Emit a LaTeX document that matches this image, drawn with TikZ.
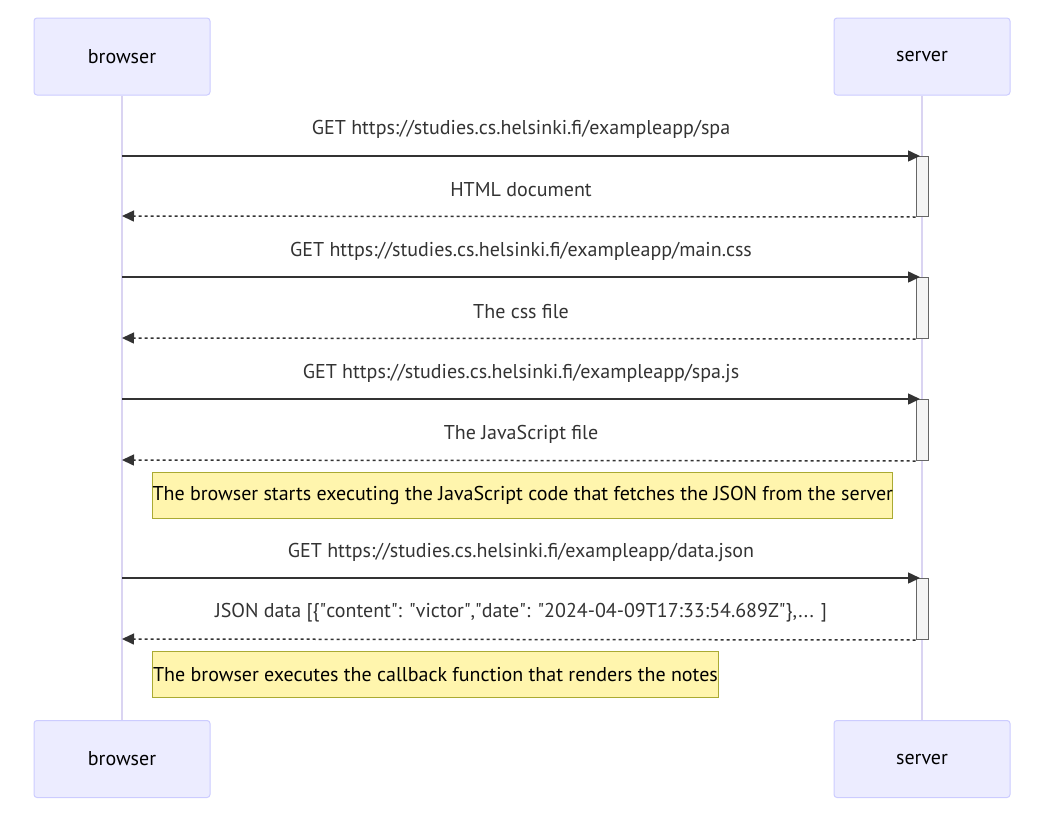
\documentclass[tikz,border=0pt]{standalone}
\usepackage{fontspec}
\setmainfont{PT Sans}
\usetikzlibrary{arrows.meta}
\definecolor{actfill}{HTML}{ECECFF}
\definecolor{actdraw}{HTML}{CCCCFF}
\definecolor{lifec}{HTML}{DAD4F2}
\definecolor{msgc}{HTML}{333333}
\definecolor{notefill}{HTML}{FFF5AD}
\definecolor{notedraw}{HTML}{AAAA33}
\definecolor{actvfill}{HTML}{F4F4F4}
\definecolor{actvdraw}{HTML}{666666}
\newcommand{\qq}{\textquotedbl}
\tikzset{
  actor/.style={draw=actdraw, fill=actfill, line width=1pt, rounded corners=3pt,
    minimum width=176pt, minimum height=77pt, inner sep=0pt, font=\fontsize{20}{24}\selectfont},
  lifeline/.style={draw=lifec, line width=2pt},
  activ/.style={draw=actvdraw, fill=actvfill, line width=1pt, minimum width=12pt, inner sep=0pt},
  msg/.style={draw=msgc, line width=1.5pt, -{Triangle[length=12pt,width=11pt]}},
  reply/.style={msg, dash pattern=on 3pt off 3pt},
  mlabel/.style={text=msgc, font=\fontsize{20}{24}\selectfont, inner sep=0pt},
  note/.style={draw=notedraw, fill=notefill, line width=1pt, minimum height=46pt, inner sep=0pt,
    anchor=north west, font=\fontsize{20}{24}\selectfont},
}
\begin{document}
\begin{tikzpicture}[x=1pt,y=-1pt]
\useasboundingbox (0,0) rectangle (1045,814);
% actors
\node[actor] (bt) at (122,56.5) {browser};
\node[actor] (st) at (922,56.5) {server};
\node[actor] (bb) at (122,759) {browser};
\node[actor] (sb) at (922,759) {server};
% lifelines
\draw[lifeline] (bt.south) -- (bb.north);
\draw[lifeline] (st.south) -- (sb.north);
% activations
\foreach \n/\a/\b in {1/156/216, 2/277/338, 3/399/460, 4/578/639}{
  \node[activ, minimum height=\b-\a, anchor=north] (act\n) at (922,\a) {};
  \coordinate (bs\n) at (122,\a);
  \coordinate (br\n) at (122,\b);
  \coordinate (se\n) at (920,\a);
}
% messages
\draw[msg] (bs1) -- (se1);
\node[mlabel] at (521,129) {GET https://studies.cs.helsinki.fi/exampleapp/spa};
\draw[reply] (act1.south west) -- (br1);
\node[mlabel] at (521,190) {HTML document};
\draw[msg] (bs2) -- (se2);
\node[mlabel] at (521,251) {GET https://studies.cs.helsinki.fi/exampleapp/main.css};
\draw[reply] (act2.south west) -- (br2);
\node[mlabel] at (521,312) {The css file};
\draw[msg] (bs3) -- (se3);
\node[mlabel] at (521,373) {GET https://studies.cs.helsinki.fi/exampleapp/spa.js};
\draw[reply] (act3.south west) -- (br3);
\node[mlabel] at (521,434) {The JavaScript file};
\node[note, minimum width=740pt] (n1) at (152,472) {The browser starts executing the JavaScript code that fetches the JSON from the server};
\draw[msg] (bs4) -- (se4);
\node[mlabel] at (521,552) {GET https://studies.cs.helsinki.fi/exampleapp/data.json};
\draw[reply] (act4.south west) -- (br4);
\node[mlabel] at (521,613) {JSON data [\{\qq content\qq: \qq victor\qq,\qq date\qq: \qq 2024-04-09T17:33:54.689Z\qq\},... ]};
\node[note, minimum width=566pt] (n2) at (152,651) {The browser executes the callback function that renders the notes};
\end{tikzpicture}
\end{document}
